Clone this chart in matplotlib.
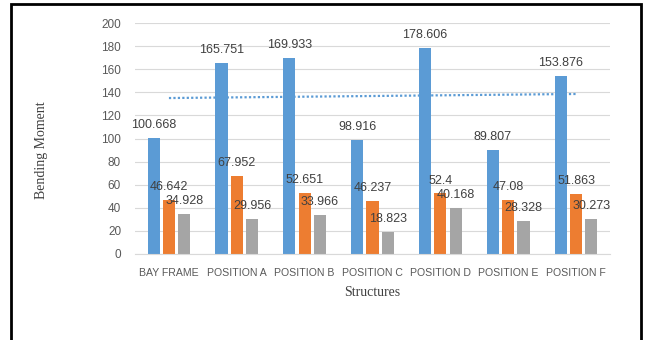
import matplotlib.pyplot as plt
import numpy as np
from matplotlib.patches import Rectangle

categories = ['BAY FRAME', 'POSITION A', 'POSITION B', 'POSITION C',
              'POSITION D', 'POSITION E', 'POSITION F']
series1 = [100.668, 165.751, 169.933, 98.916, 178.606, 89.807, 153.876]
series2 = [46.642, 67.952, 52.651, 46.237, 52.4, 47.08, 51.863]
series3 = [34.928, 29.956, 33.966, 18.823, 40.168, 28.328, 30.273]
yticks = [0, 20, 40, 60, 80, 100, 120, 140, 160, 180, 200]

colors = ['#5B9BD5', '#ED7D31', '#A5A5A5']
label_col = '#404040'
tick_col = '#595959'

fig = plt.figure(figsize=(6.46, 3.40), dpi=100)
ax = fig.add_axes([135 / 646, 86 / 340, 475 / 646, 231 / 340])

x = np.arange(len(categories))
w = 0.18
step = 0.225
for i, (vals, c) in enumerate(zip([series1, series2, series3], colors)):
    pos = x + (i - 1) * step
    ax.bar(pos, vals, width=w, color=c, zorder=2)
    for px, v in zip(pos, vals):
        ax.annotate(f'{v:g}', (px, v), xytext=(0, 5), textcoords='offset points',
                    ha='center', va='bottom', fontsize=9, color=label_col,
                    family='Liberation Sans', zorder=4)

# linear trendline of the first series
k, b = np.polyfit(x, series1, 1)
ax.plot(x, k * x + b, color='#5B9BD5', lw=1.6, linestyle=(0, (1, 1)), zorder=3)

ax.set_xlim(-0.5, len(categories) - 0.5)
ax.set_ylim(0, 200)
ax.set_yticks(yticks)
ax.set_xticks(x)
ax.set_xticklabels(categories)
ax.grid(axis='y', color='#D9D9D9', lw=0.8, zorder=0)
ax.set_axisbelow(True)
for s in ['top', 'right', 'left']:
    ax.spines[s].set_visible(False)
ax.spines['bottom'].set_color('#D9D9D9')
ax.tick_params(axis='both', length=0, colors=tick_col, labelsize=8.5)
ax.tick_params(axis='y', pad=10)
ax.tick_params(axis='x', pad=10)
for t in ax.get_yticklabels():
    t.set_family('Liberation Sans')
for t in ax.get_xticklabels():
    t.set_family('Liberation Sans')
    t.set_fontsize(7.6)

ax.set_xlabel('Structures', family='Liberation Serif', fontsize=10,
              color=label_col, labelpad=6)
fig.text(42 / 646, 1 - 150 / 340, 'Bending Moment', rotation=90,
         family='Liberation Serif', fontsize=10, color=label_col,
         ha='center', va='center')

# outer frame
fig.patches.append(Rectangle((11 / 646, -0.05), 630 / 646, 1.05 - 4 / 340,
                             transform=fig.transFigure, fill=False,
                             edgecolor='black', lw=2))

fig.savefig('out.png', dpi=100)
